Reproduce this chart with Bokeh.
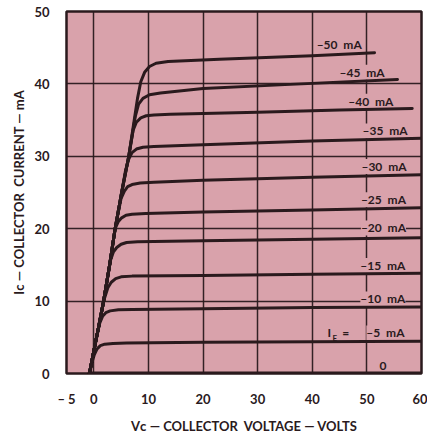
from bokeh.plotting import figure
from bokeh.models import ColumnDataSource, FixedTicker, Title
from bokeh.core.properties import value
from bokeh.embed import file_html
from bokeh.resources import INLINE

# ---------------- data ----------------
v_0 = [-0.8, 60]
i_0 = [0.0, 0.0]

v_5 = [-0.8, -0.3, 0.1, 0.6, 1.2, 2.0, 3.5, 6, 20, 40, 60]
i_5 = [0.0, 1.6, 2.6, 3.4, 3.85, 4.05, 4.15, 4.2, 4.3, 4.4, 4.45]

v_10 = [-0.8, 0.0, 0.6, 1.1, 1.6, 2.2, 3.0, 4.5, 7, 20, 40, 60]
i_10 = [0.0, 3.1, 5.4, 7.0, 7.9, 8.4, 8.65, 8.8, 8.85, 8.95, 9.1, 9.2]

v_15 = [-0.8, 0.0, 0.9, 1.8, 2.6, 3.2, 4.0, 5.0, 7, 20, 40, 60]
i_15 = [0.0, 3.1, 6.5, 10.0, 11.9, 12.6, 13.1, 13.35, 13.45, 13.55, 13.7, 13.85]

v_20 = [-0.8, 0.0, 0.9, 1.8, 3.0, 3.6, 4.2, 5.0, 6.0, 8, 20, 40, 60]
i_20 = [0.0, 3.1, 6.5, 10.0, 15.5, 16.8, 17.4, 17.85, 18.1, 18.2, 18.35, 18.55, 18.75]

v_25 = [-0.8, 0.0, 0.9, 1.8, 2.9, 3.9, 4.5, 5.1, 5.9, 7.0, 9.5, 20, 40, 60]
i_25 = [0.0, 3.1, 6.5, 10.0, 15.0, 20.0, 21.0, 21.5, 21.85, 22.0, 22.1, 22.3, 22.6, 22.9]

v_30 = [-0.8, 0.0, 0.9, 1.8, 2.9, 3.9, 5.0, 5.6, 6.2, 7.0, 8.5, 11, 20, 40, 60]
i_30 = [0.0, 3.1, 6.5, 10.0, 15.0, 20.0, 24.2, 25.2, 25.8, 26.1, 26.3, 26.4, 26.7, 27.1, 27.45]

v_35 = [-0.8, 0.0, 0.9, 1.8, 2.9, 3.9, 5.1, 5.8, 6.4, 7.0, 7.8, 9.0, 11, 20, 40, 60]
i_35 = [0.0, 3.1, 6.5, 10.0, 15.0, 20.0, 25.0, 28.0, 29.6, 30.5, 31.0, 31.25, 31.35, 31.6, 32.1, 32.5]

v_40 = [-0.8, 0.0, 0.9, 1.8, 2.9, 3.9, 5.1, 6.4, 7.2, 7.8, 8.6, 9.6, 11, 14, 30, 45, 58.3]
i_40 = [0.0, 3.1, 6.5, 10.0, 15.0, 20.0, 25.0, 30.0, 33.6, 34.7, 35.3, 35.6, 35.7, 35.8, 36.1, 36.4, 36.6]

v_45 = [-0.8, 0.0, 0.9, 1.8, 2.9, 3.9, 5.1, 6.4, 7.6, 8.2, 9.0, 10.2, 12.2, 20, 35, 55.6]
i_45 = [0.0, 3.1, 6.5, 10.0, 15.0, 20.0, 25.0, 30.0, 35.5, 37.2, 38.0, 38.5, 38.75, 39.35, 39.9, 40.6]

v_50 = [-0.8, 0.0, 0.9, 1.8, 2.9, 3.9, 5.1, 6.4, 8.0, 8.6, 9.3, 10.2, 11.4, 13.6, 23, 40, 51.4]
i_50 = [0.0, 3.1, 6.5, 10.0, 15.0, 20.0, 25.0, 30.0, 38.0, 40.3, 41.6, 42.4, 42.85, 43.1, 43.4, 43.9, 44.3]

curves_v = [v_0, v_5, v_10, v_15, v_20, v_25, v_30, v_35, v_40, v_45, v_50]
curves_i = [i_0, i_5, i_10, i_15, i_20, i_25, i_30, i_35, i_40, i_45, i_50]

NB = "\u00a0"
curve_label_text = ["–50" + NB + NB + "mA", "–45" + NB + NB + "mA", "–40" + NB + NB + "mA",
                    "–35" + NB + NB + "mA", "–30" + NB + NB + "mA", "–25" + NB + NB + "mA",
                    "–20" + NB + NB + "mA", "–15" + NB + NB + "mA", "–10" + NB + NB + "mA",
                    "–5" + NB + NB + "mA", "0"]
curve_label_v = [40.8, 45.0, 46.6, 49.2, 49.0, 48.9, 48.9, 48.8, 48.8, 49.9, 52.3]
curve_label_i = [45.5, 41.6, 37.6, 33.5, 28.6, 24.0, 20.1, 14.9, 10.3, 5.6, 1.1]

x_ticks = [-5, 0, 10, 20, 30, 40, 50, 60]
y_ticks = [0, 10, 20, 30, 40, 50]
x_grid = [0, 10, 20, 30, 40, 50]
y_grid = [10, 20, 30, 40]

x_title = "V\u1d04" + NB + "—" + NB + "COLLECTOR" + NB + NB + "VOLTAGE" + NB + "—" + NB + "VOLTS"
y_title = "I\u1d04" + NB + "—" + NB + "COLLECTOR" + NB + NB + "CURRENT" + NB + "—" + NB + "mA"

# ---------------- styling ----------------
PINK = "#d9a2ab"
INK = "#2a1a1d"
FONT = "Lato"

p = figure(width=427, height=440, x_range=(-5, 60), y_range=(0, 50),
           output_backend="svg", toolbar_location=None,
           min_border_left=66, min_border_right=6, min_border_top=11, min_border_bottom=66)
p.background_fill_color = PINK
p.border_fill_color = "white"
p.outline_line_color = INK
p.outline_line_width = 2.5

p.xaxis.ticker = FixedTicker(ticks=x_ticks)
p.yaxis.ticker = FixedTicker(ticks=y_ticks)
p.xaxis.major_label_overrides = {-5: "–" + NB + "5"}
for ax in (p.xaxis, p.yaxis):
    ax.axis_line_color = None
    ax.major_tick_line_color = None
    ax.minor_tick_line_color = None
    ax.major_label_text_font = FONT
    ax.major_label_text_font_style = "bold"
    ax.major_label_text_font_size = "13px"
    ax.major_label_text_color = INK
p.xaxis.major_label_standoff = 11
p.yaxis.major_label_standoff = 11

p.xgrid.ticker = FixedTicker(ticks=x_grid)
p.ygrid.ticker = FixedTicker(ticks=y_grid)
p.grid.grid_line_color = INK
p.grid.grid_line_width = 1.5
p.grid.grid_line_alpha = 0.95

# axis titles as side titles
p.add_layout(Title(text=x_title, align="center", text_font=FONT, text_font_style="bold",
                   text_font_size="13px", text_color=INK, standoff=13), "below")
p.add_layout(Title(text=y_title, align="center", text_font=FONT, text_font_style="bold",
                   text_font_size="13px", text_color=INK, standoff=9), "left")

lab_src = ColumnDataSource(dict(x=curve_label_v, y=curve_label_i, t=curve_label_text))
p.text(x="x", y="y", text="t", source=lab_src, text_font=value(FONT),
       text_font_style="bold", text_font_size="12px", text_color=INK,
       text_baseline="middle", text_align="left",
       background_fill_color=PINK)

p.text(x=[42.8], y=[5.6], text=["I"], text_font=value(FONT), text_font_style="bold",
       text_font_size="12px", text_color=INK, text_baseline="middle")
p.text(x=[43.7], y=[4.9], text=["E"], text_font=value(FONT), text_font_style="bold",
       text_font_size="8px", text_color=INK, text_baseline="middle")
p.text(x=[45.5], y=[5.6], text=["="], text_font=value(FONT), text_font_style="bold",
       text_font_size="12px", text_color=INK, text_baseline="middle")

for vv, ii in zip(curves_v, curves_i):
    w = 4 if vv is v_0 else 3
    p.line(vv, ii, line_color=INK, line_width=w, line_join="round", line_cap="round")

open("out.html", "w").write(file_html(p, INLINE))
